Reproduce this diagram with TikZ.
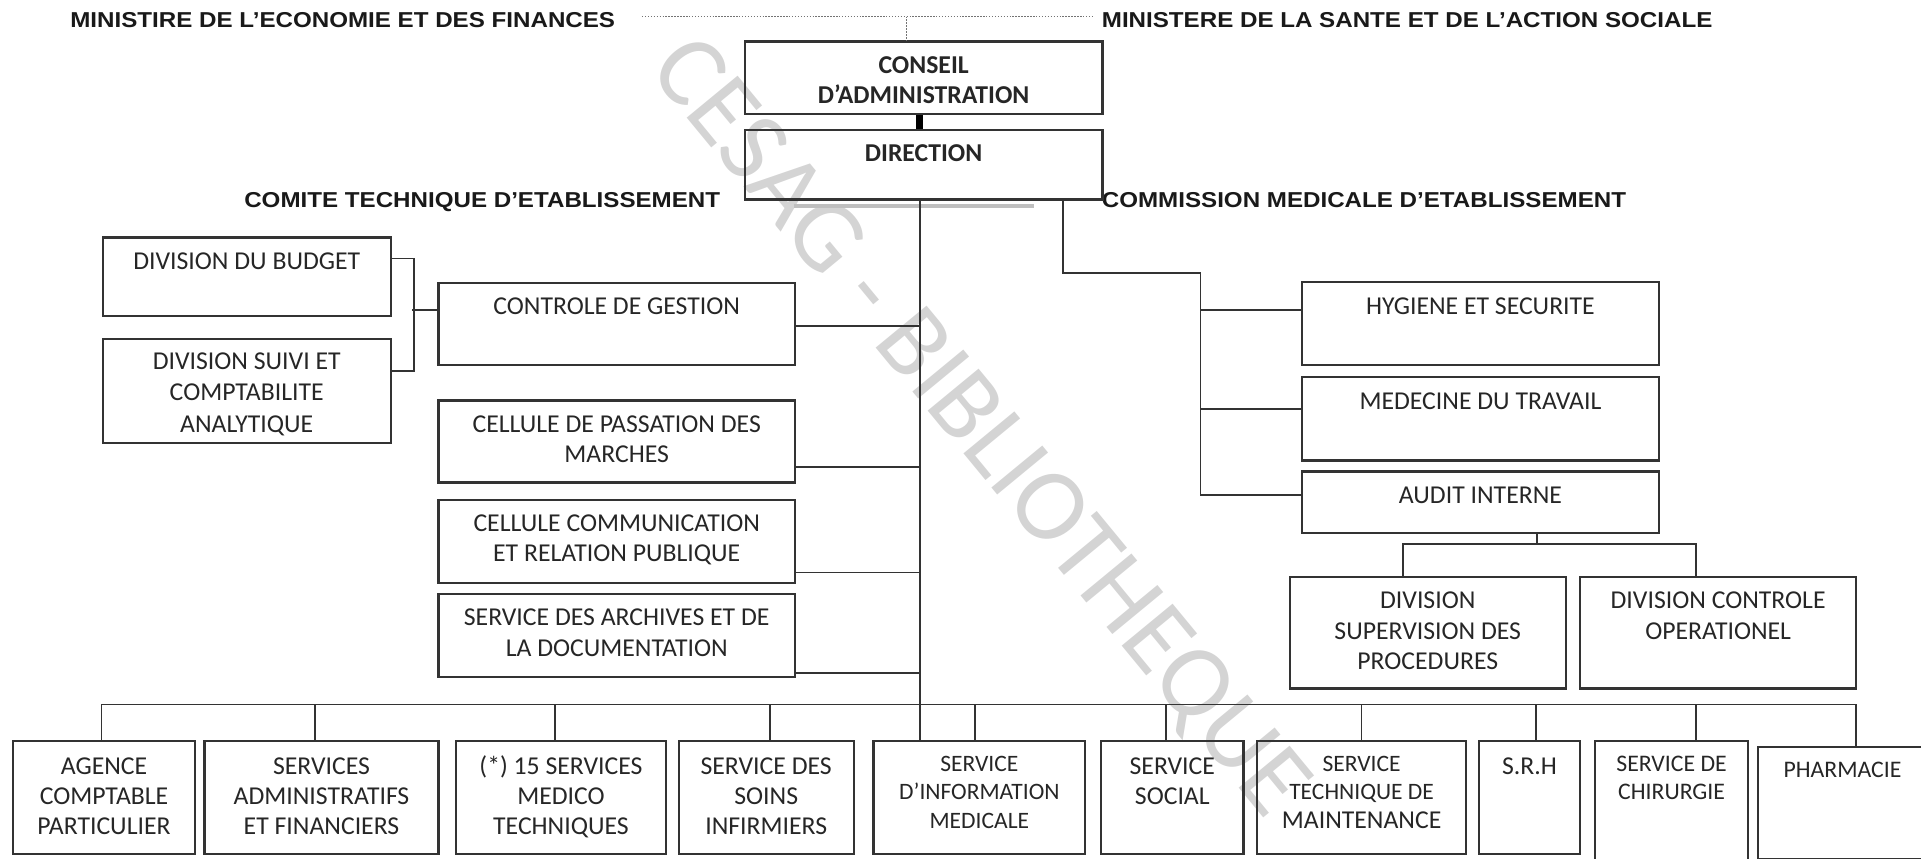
\documentclass[tikz,border=0pt]{standalone}
\usepackage{fontspec}
\setmainfont{Carlito}
\newfontfamily\lblfont[FakeStretch=1.12]{Liberation Sans}

% one drawing unit = 0.5pt
\newdimen\pxu \pxu=0.5pt

\tikzset{
  orgbox/.style={draw=black!80, line width=0.9pt, inner sep=0pt, anchor=north west,
                 text=black!85, font=\fontsize{10.5}{12.4}\selectfont},
  link/.style={draw=black!80, line width=0.7pt},
  heavy/.style={draw=black, line width=3pt},
  dotline/.style={draw=black!55, line width=0.6pt, dash pattern=on 0.6pt off 0.6pt},
  shadeline/.style={draw=black!25, line width=1.4pt},
  toplabel/.style={font=\lblfont\bfseries\fontsize{8.8}{10}\selectfont, inner sep=0pt,
                   anchor=base west, text=black!90},
  watermark/.style={font=\fontsize{42}{44}\selectfont, text=black!17, inner sep=0pt},
}

% \orgbox{name}{x1}{y1}{x2}{y2}{first baseline below top}{text}
\newcommand{\orgbox}[7]{%
  \node[orgbox] (#1) at (#2,#3)
    {\parbox[t][\dimexpr\pxu*(#5-#3)\relax][t]{\dimexpr\pxu*(#4-#2)\relax}%
      {\centering\rule{0pt}{\dimexpr\pxu*#6\relax}#7}};}

\begin{document}
\begin{tikzpicture}[x=0.5pt,y=-0.5pt]
\useasboundingbox (0,0) rectangle (1568,701);

% library stamp across the chart
\node[watermark, rotate=-50.5] (wm) at (798,350) {CESAG - BIBLIOTHEQUE};

% supervising ministries and committees
\node[toplabel] (minE) at (57,22.3) {MINISTIRE DE L’ECONOMIE ET DES FINANCES};
\node[toplabel] (minS) at (899,22.3) {MINISTERE DE LA SANTE ET DE L’ACTION SOCIALE};
\node[toplabel] (cte) at (199,169.5) {COMITE TECHNIQUE D’ETABLISSEMENT};
\node[toplabel] (cme) at (899,169.5) {COMMISSION MEDICALE D’ETABLISSEMENT};

% governing boxes
\orgbox{conseil}{607}{33}{899}{92}{26}{\bfseries\fontsize{10.5}{12.25}\selectfont CONSEIL\\D’ADMINISTRATION}
\orgbox{direction}{607}{105}{899}{162}{26}{\bfseries DIRECTION}

% left column
\orgbox{divb}{83}{193}{318}{257}{26}{DIVISION DU BUDGET}
\orgbox{divs}{83}{276}{318}{361}{25}{\fontsize{10.5}{12.7}\selectfont DIVISION SUIVI ET\\COMPTABILITE\\ANALYTIQUE}
\orgbox{ctrl}{357}{230}{648}{297}{26}{CONTROLE DE GESTION}
\orgbox{pass}{357}{326}{648}{393}{26}{CELLULE DE PASSATION DES\\MARCHES}
\orgbox{comm}{357}{407}{648}{475}{26}{CELLULE COMMUNICATION\\ET RELATION PUBLIQUE}
\orgbox{arch}{357}{484}{648}{552}{26}{SERVICE DES ARCHIVES ET DE\\LA DOCUMENTATION}

% right column
\orgbox{hyg}{1062}{229}{1353}{297}{27}{HYGIENE ET SECURITE}
\orgbox{med}{1062}{307}{1353}{375}{26}{MEDECINE DU TRAVAIL}
\orgbox{aud}{1062}{384}{1353}{434}{26}{AUDIT INTERNE}
\orgbox{dsup}{1052}{470}{1277}{561}{26}{DIVISION\\SUPERVISION DES\\PROCEDURES}
\orgbox{dctl}{1289}{470}{1514}{561}{26}{DIVISION CONTROLE\\OPERATIONEL}

% bottom row of services
\orgbox{agence}{10}{604}{158}{696}{27}{AGENCE\\COMPTABLE\\PARTICULIER}
\orgbox{admin}{166}{604}{357}{696}{27}{SERVICES\\ADMINISTRATIFS\\ET FINANCIERS}
\orgbox{medtech}{371}{604}{543}{696}{27}{(*) 15 SERVICES\\MEDICO\\TECHNIQUES}
\orgbox{soins}{553}{604}{696}{696}{27}{SERVICE DES\\SOINS\\INFIRMIERS}
\orgbox{info}{712}{604}{885}{696}{25}{\fontsize{9.6}{11.5}\selectfont SERVICE\\D’INFORMATION\\MEDICALE}
\orgbox{social}{898}{604}{1014}{696}{27}{SERVICE\\SOCIAL}
\orgbox{tech}{1025}{604}{1196}{696}{25}{\fontsize{9.6}{11.5}\selectfont SERVICE\\TECHNIQUE DE\\\fontsize{10.5}{11.5}\selectfont MAINTENANCE}
\orgbox{srh}{1206}{604}{1289}{696}{27}{S.R.H}
\orgbox{chir}{1301}{604}{1426}{712}{25}{\fontsize{9.7}{11.5}\selectfont SERVICE DE\\CHIRURGIE}
\orgbox{pharm}{1434}{609}{1572}{700}{25}{\fontsize{9.7}{11.5}\selectfont PHARMACIE}

% ministries line down to the board
\coordinate (dotL) at (524,13.5);
\coordinate (dotR) at (892,13.5);
\coordinate (dotM) at (740,13.5);
\draw[dotline] (dotL) -- (dotR);
\draw[dotline] (dotM) -- (dotM |- conseil.north);

% board to direction
\draw[heavy] ([xshift=-1.75pt]conseil.south) -- ([xshift=-1.75pt]direction.north);

% shaded rule under the direction box
\draw[shadeline] ([shift={(-106,4.5)}]direction.south) -- ([shift={(90,4.5)}]direction.south);

% main trunk
\path ([shift={(-3,0)}]direction.south) coordinate (tk);
\draw[link] (tk) -- (tk |- info.north);

% staff units on the trunk
\path ([shift={(0,1.5)}]ctrl.east) coordinate (ctrlR);
\path ([shift={(0,20.5)}]pass.east) coordinate (passR);
\path ([shift={(0,25.5)}]comm.east) coordinate (commR);
\path ([shift={(0,30.5)}]arch.east) coordinate (archR);
\draw[link] (ctrlR) -- (ctrlR -| tk);
\draw[link] (passR) -- (passR -| tk);
\draw[link] (commR) -- (commR -| tk);
\draw[link] (archR) -- (archR -| tk);

% divisions under management control
\path ([shift={(0,-15)}]divb.east) coordinate (bA);
\path ([shift={(0,-16.5)}]divs.east) coordinate (bB);
\path ([shift={(0,-11.5)}]ctrl.west) coordinate (bC);
\draw[link] (bA) -- ++(18,0) |- (bB);
\draw[link] (bC) -- ++(-21,0);

% right branch
\path ([shift={(114,0)}]direction.south) coordinate (rbTop);
\coordinate (rbv) at (980,223);
\path ([shift={(0,-11)}]hyg.west) coordinate (hA);
\path ([shift={(0,-8)}]med.west) coordinate (mA);
\path ([shift={(0,-6)}]aud.west) coordinate (aA);
\draw[link] (rbTop) |- (rbv) -- (rbv |- aA) -- (aA);
\draw[link] (hA) -- (hA -| rbv);
\draw[link] (mA) -- (mA -| rbv);

% internal audit divisions
\path ([shift={(46,0)}]aud.south) coordinate (aS);
\path (aS) ++(0,8) coordinate (aJ);
\path ([shift={(-20,0)}]dsup.north) coordinate (dA);
\path ([shift={(-18,0)}]dctl.north) coordinate (dB);
\draw[link] (aS) -- (aJ);
\draw[link] (dA) |- (aJ);
\draw[link] (dB) |- (aJ);

% bottom bus
\path (tk |- 0,575) coordinate (busY);
\path ([shift={(-2,0)}]agence.north) coordinate (d1);
\path ([shift={(-5,0)}]admin.north) coordinate (d2);
\path ([shift={(-5,0)}]medtech.north) coordinate (d3);
\path ([shift={(3,0)}]soins.north) coordinate (d4);
\path ([shift={(-3.5,0)}]info.north) coordinate (d5);
\path ([shift={(-5,0)}]social.north) coordinate (d6);
\path (tech.north) coordinate (d7);
\path ([shift={(5.5,0)}]srh.north) coordinate (d8);
\path ([shift={(20,0)}]chir.north) coordinate (d9);
\path ([shift={(11,0)}]pharm.north) coordinate (d10);
\draw[link] (d1 |- busY) -- (d10 |- busY);
\foreach \d in {d1,d2,d3,d4,d5,d6,d7,d8,d9,d10}
  \draw[link] (\d |- busY) -- (\d);
\end{tikzpicture}
\end{document}
